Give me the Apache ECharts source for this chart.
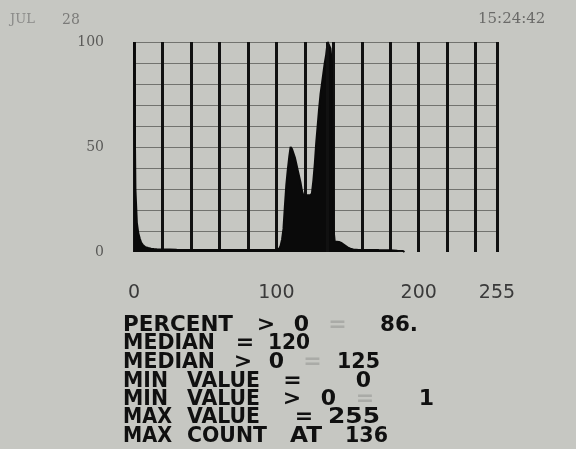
<!DOCTYPE html>
<html>
<head>
<meta charset="utf-8">
<script src="https://cdn.jsdelivr.net/npm/echarts@6/dist/echarts.min.js"></script>
<style>
html,body{margin:0;padding:0;background:#c6c7c2;}
#chart{width:576px;height:449px;}
</style>
</head>
<body>
<div id="chart"></div>
<script>
// ---- data ----
const binX = [0,1,2,3,4,5,6,7,8,10,12,14,16,20,25,30,40,50,60,70,80,90,100,
  101,102,103,104,105,106,107,108,109,110,111,112,113,114,115,116,117,118,119,120,
  122,124,125,126,
  127,128,129,130,131,132,133,134,135,136,137,138,139,140,141,142,
  144,146,148,150,152,154,158,165,172,180,185,189,190];
const counts = [100,30,14,9,6.5,4.5,3.5,2.8,2.3,1.9,1.6,1.4,1.3,1.2,1.2,1.1,1.0,1.0,1.0,1.0,1.0,1.0,1.0,
  1.2,1.6,3,6,11,22,32,39,45,50,49,47,45,42,39,36,33,29,27,27,
  27,27,28,34,
  42,52,60,68,75,80,85,90,94,100,100,97,90,12,5,4.5,
  4.8,4.2,3.2,2.2,1.6,1.2,1.0,1.0,0.9,0.8,0.6,0.5,0];
const xTickLabels = [0, 100, 200, 255];
const yTickLabels = [0, 50, 100];
const maxCountAt = 136;
const headerDate = ['JUL', '28'];
const headerTime = '15:24:42';
const statLabels = ['PERCENT > 0 =', 'MEDIAN =', 'MEDIAN > 0 =', 'MIN VALUE =', 'MIN VALUE > 0 =', 'MAX VALUE =', 'MAX COUNT AT'];
const statValues = ['86.', '120', '125', '0', '1', '255', '136'];

// ---- layout: [left, right] spans of each token (labels then value) ----
const tokenSpans = [
  [[123,233],[261,271],[293,310],[333,342],[380,418]],
  [[123,215],[240,250],[268,310]],
  [[123,215],[238,248],[268,285],[308,317],[337,380]],
  [[123,168],[187,260],[287,298],[355,372]],
  [[123,168],[187,260],[287,297],[320,337],[360,370],[423,430]],
  [[123,172],[187,260],[298,310],[328,380]],
  [[123,172],[187,267],[290,322],[345,388]]
];
const lineY = [325, 343, 362, 381, 399, 417, 436];
const statFont = 'bold 22px "DejaVu Sans"';

const measureCtx = document.createElement('canvas').getContext('2d');
measureCtx.font = statFont;

const graphics = [];
graphics.push({type:'text', x: 10, y: 20, style:{text: headerDate[0], font:'13px "DejaVu Serif"', fill:'#8a8a88', textVerticalAlign:'middle', verticalAlign:'middle'}});
graphics.push({type:'text', x: 62, y: 20, style:{text: headerDate[1], font:'14px "DejaVu Serif"', fill:'#7a7a78', textVerticalAlign:'middle', verticalAlign:'middle'}});
graphics.push({type:'text', x: 478, y: 19, style:{text: headerTime, font:'15px "DejaVu Serif"', fill:'#6a6a68', textVerticalAlign:'middle', verticalAlign:'middle'}});

statLabels.forEach((lab, i) => {
  const toks = lab.split(' ').concat([statValues[i]]);
  const faintEq = lab.indexOf('>') >= 0;
  toks.forEach((t, j) => {
    const span = tokenSpans[i][j];
    const faint = faintEq && t === '=';
    const style = {text: t, x: 0, y: 0, font: statFont, fill: faint ? '#aaaba7' : '#101010',
      textVerticalAlign:'middle', verticalAlign:'middle'};
    if (t.length >= 2) {
      const w = measureCtx.measureText(t).width;
      graphics.push({type:'text', x: span[0], y: lineY[i], scaleX: (span[1]-span[0]) / w, style: style});
    } else {
      style.textAlign = 'center'; style.align = 'center';
      graphics.push({type:'text', x: (span[0]+span[1]) / 2, y: lineY[i], style: style});
    }
  });
});

const yColors = ['rgba(0,0,0,0)','#72736f','#72736f','#72736f','#72736f','#72736f','#72736f','#72736f','#72736f','#72736f','#72736f'];

const chart = echarts.init(document.getElementById('chart'), null, {renderer:'canvas'});
chart.setOption({
  backgroundColor: '#c6c7c2',
  animation: false,
  grid: {left: 134, right: 79, top: 42, bottom: 197},
  xAxis: {
    type: 'value', min: 0, max: 255, interval: 20,
    axisLine: {show: false}, axisTick: {show: false},
    splitLine: {show: true, lineStyle: {color: '#111', width: 3}},
    axisLabel: {
      margin: 32, color: '#3a3a3a', fontSize: 19, fontFamily: 'DejaVu Sans',
      showMaxLabel: true,
      formatter: v => xTickLabels.indexOf(v) >= 0 ? String(v) : ''
    }
  },
  yAxis: {
    type: 'value', min: 0, max: 100, interval: 10,
    axisLine: {show: false}, axisTick: {show: false},
    splitLine: {show: true, lineStyle: {color: yColors, width: 1}},
    axisLabel: {
      margin: 30, color: '#5a5a58', fontSize: 14, fontFamily: 'DejaVu Serif',
      formatter: v => yTickLabels.indexOf(v) >= 0 ? String(v) : ''
    }
  },
  series: [{
    type: 'line',
    data: binX.map((x, i) => [x, counts[i]]),
    symbol: 'none',
    lineStyle: {color: '#0a0a0a', width: 2},
    areaStyle: {color: '#0a0a0a', opacity: 1},
    markLine: {
      silent: true, symbol: 'none', label: {show: false},
      lineStyle: {color: '#111', width: 3, type: 'solid'},
      data: [{xAxis: maxCountAt}]
    }
  }],
  graphic: graphics
});
</script>
</body>
</html>
